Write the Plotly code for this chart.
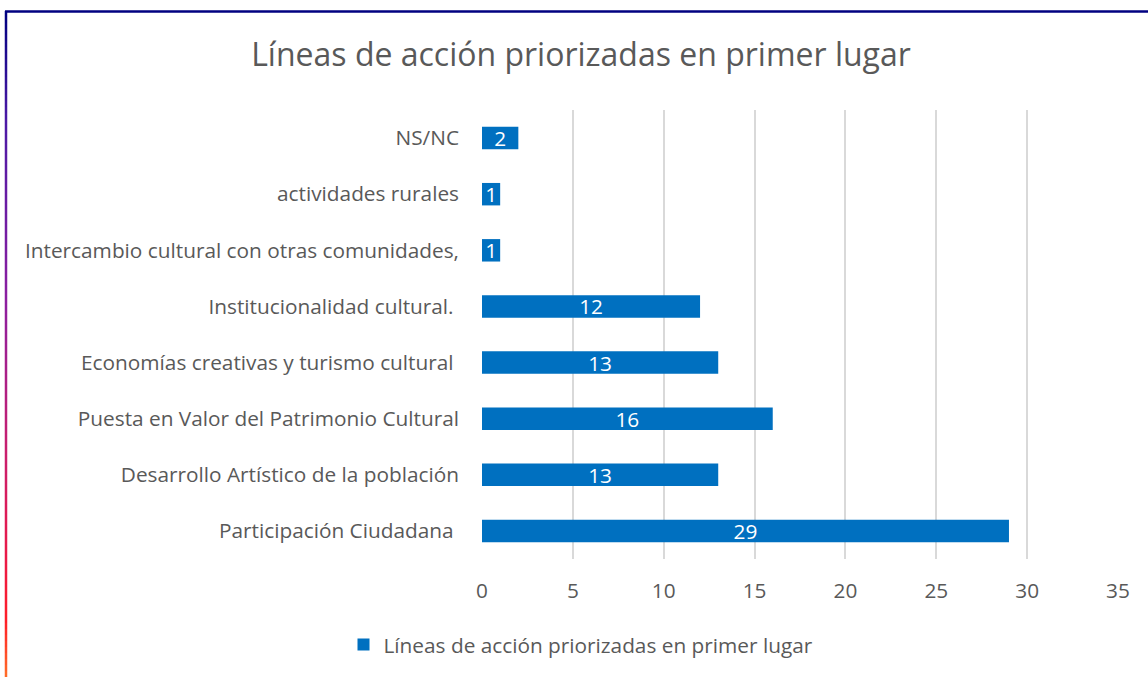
import plotly.graph_objects as go

# Lines of action ranked first (bottom to top as drawn)
categories = [
    "Participación Ciudadana ",
    "Desarrollo Artístico de la población",
    "Puesta en Valor del Patrimonio Cultural",
    "Economías creativas y turismo cultural ",
    "Institucionalidad cultural. ",
    "Intercambio cultural con otras comunidades,",
    "actividades rurales",
    "NS/NC",
]
values = [29, 13, 16, 13, 12, 1, 1, 2]
x_ticks = [0, 5, 10, 15, 20, 25, 30, 35]
series_name = "Líneas de acción priorizadas en primer lugar"

W, H = 1148, 677
FONT = "Open Sans"
GRAY = "#595959"
FS = 20.8

fig = go.Figure()
fig.add_trace(go.Bar(
    x=values,
    y=categories,
    orientation="h",
    name=series_name,
    marker=dict(color="#0070C0", line=dict(width=0)),
    text=[str(v) for v in values],
    textposition="inside",
    insidetextanchor="middle",
    textangle=0,
    textfont=dict(color="white", size=FS, family=FONT),
    width=0.4,
    showlegend=True,
))

# Left frame edge with a navy -> purple -> magenta -> red -> orange gradient
stops = [
    (11, (0, 0, 128)),
    (120, (75, 25, 165)),
    (300, (140, 30, 160)),
    (450, (200, 30, 110)),
    (560, (235, 25, 70)),
    (620, (255, 30, 40)),
    (677, (255, 110, 40)),
]

def color_at(y):
    for (y0, c0), (y1, c1) in zip(stops[:-1], stops[1:]):
        if y0 <= y <= y1:
            t = (y - y0) / (y1 - y0)
            return "rgb(%d,%d,%d)" % tuple(round(a + (b - a) * t) for a, b in zip(c0, c1))
    return "rgb(%d,%d,%d)" % stops[-1][1]

L, R, T, B = 482, 30, 110, 118
pw, ph = W - L - R, H - T - B

def px_x(x):
    return (x - L) / pw

def px_y(y):
    return 1 - (y - T) / ph

shapes = []
step = 6
y = 11
while y < H:
    y2 = min(y + step, H + 2)
    shapes.append(dict(
        type="line", xref="paper", yref="paper",
        x0=px_x(6), x1=px_x(6), y0=px_y(y), y1=px_y(y2),
        line=dict(color=color_at(y + step / 2), width=2.5),
        layer="above",
    ))
    y = y2
# top edge of the frame
shapes.append(dict(
    type="line", xref="paper", yref="paper",
    x0=px_x(5), x1=px_x(W + 5), y0=px_y(11.5), y1=px_y(11.5),
    line=dict(color="#000080", width=2.5),
))

fig.update_layout(
    width=W, height=H,
    margin=dict(l=L, r=R, t=T, b=B),
    paper_bgcolor="white",
    plot_bgcolor="white",
    title=dict(
        text=series_name,
        x=581 / W, xanchor="center", xref="container",
        y=1 - 55 / H, yanchor="middle", yref="container",
        font=dict(family=FONT, size=32, color=GRAY),
    ),
    xaxis=dict(
        range=[0, 35],
        tickvals=x_ticks,
        ticktext=[str(v) for v in x_ticks],
        showgrid=True, gridcolor="#D9D9D9", gridwidth=1.5,
        zeroline=False, showline=False, ticks="",
        tickfont=dict(family=FONT, size=FS, color=GRAY),
        ticklabelstandoff=17,
        fixedrange=True,
    ),
    yaxis=dict(
        categoryorder="array", categoryarray=categories,
        showgrid=False, zeroline=False, showline=False, ticks="",
        tickfont=dict(family=FONT, size=FS, color=GRAY),
        ticklabelstandoff=22,
        fixedrange=True,
    ),
    legend=dict(
        orientation="h",
        x=(581 - L) / pw, xanchor="center",
        y=-(645 - (T + ph)) / ph, yanchor="middle",
        font=dict(family=FONT, size=FS, color=GRAY),
        itemwidth=30,
    ),
    uniformtext=dict(minsize=FS, mode="show"),
    shapes=shapes,
)

fig.write_html("out.html")
